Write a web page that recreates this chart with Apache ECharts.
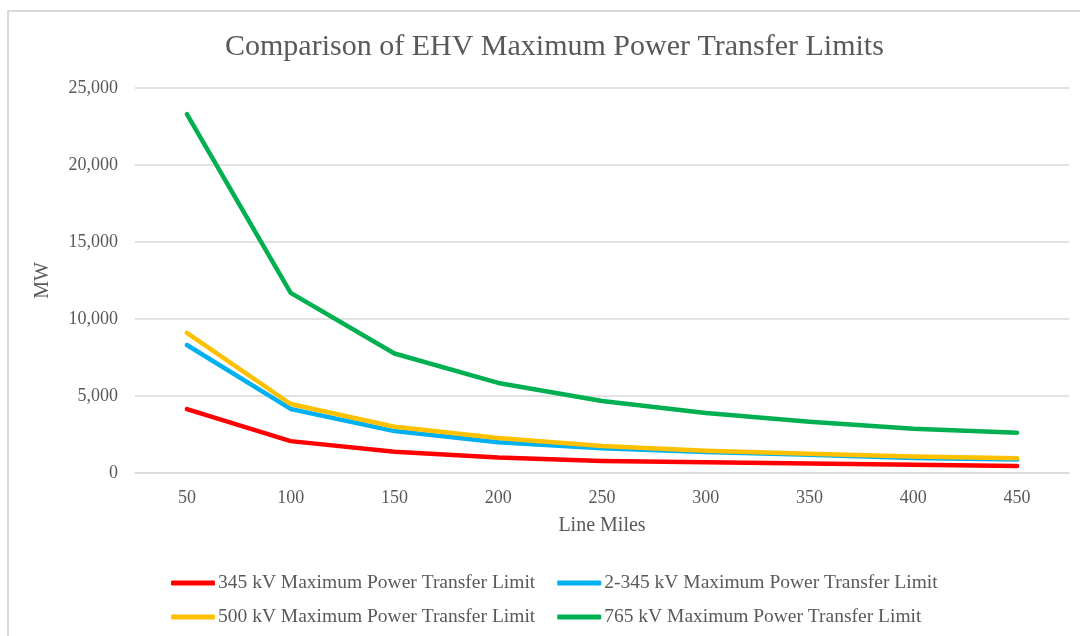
<!DOCTYPE html>
<html lang="en">

<head>
    <meta charset="UTF-8">
    <title>Comparison of EHV Maximum Power Transfer Limits</title>
    <style>
        html, body { margin: 0; padding: 0; background: #fff; }
    </style>
</head>

<body>
    <!-- chart container -->
    <div id="main" style="width: 1080px; height: 636px;"></div>

    <script src="https://cdn.jsdelivr.net/npm/echarts@6/dist/echarts.min.js"></script>
    <script>
        // line miles on the x axis
        var miles = ['50', '100', '150', '200', '250', '300', '350', '400', '450']
        var yTicks = [0, 5000, 10000, 15000, 20000, 25000]

        // MW values
        var mw345 = [4150, 2070, 1380, 1000, 780, 690, 610, 530, 460]
        var mw2x345 = [8310, 4160, 2720, 2000, 1600, 1370, 1180, 980, 870]
        var mw500 = [9100, 4480, 3000, 2280, 1760, 1450, 1250, 1070, 960]
        var mw765 = [23300, 11700, 7760, 5850, 4680, 3900, 3330, 2880, 2620]

        var names = [
            '345 kV Maximum Power Transfer Limit',
            '2-345 kV Maximum Power Transfer Limit',
            '500 kV Maximum Power Transfer Limit',
            '765 kV Maximum Power Transfer Limit'
        ]
        var colors = ['#FF0000', '#00B0F0', '#FFC000', '#00B050']

        var font = 'Liberation Serif'
        var grey = '#595959'

        var myChart = echarts.init(document.getElementById('main'))

        function lineSeries(i, data) {
            return {
                name: names[i],
                type: 'line',
                data: data,
                symbol: 'none',
                lineStyle: { color: colors[i], width: 4.5, cap: 'round', join: 'round' },
                itemStyle: { color: colors[i] }
            }
        }

        function legendRow(top, items) {
            return {
                top: top,
                left: 166,
                data: items,
                icon: 'roundRect',
                itemWidth: 44,
                itemHeight: 5,
                itemGap: 22,
                textStyle: { fontFamily: font, fontSize: 19.5, color: grey, padding: [0, 0, 0, -2] }
            }
        }

        var option = {
            animation: false,
            backgroundColor: '#fff',
            title: {
                text: 'Comparison of EHV Maximum Power Transfer Limits',
                left: 220,
                top: 27,
                textStyle: { fontFamily: font, fontSize: 30, fontWeight: 'normal', color: grey }
            },
            graphic: [{
                type: 'rect',
                shape: { x: 8, y: 11, width: 1200, height: 1000 },
                style: { fill: 'none', stroke: '#d9d9d9', lineWidth: 2 },
                silent: true
            }],
            legend: [
                legendRow(568, [names[0], names[1]]),
                legendRow(602, [names[2], names[3]])
            ],
            grid: { left: 135, right: 11, top: 88, bottom: 163 },
            xAxis: {
                type: 'category',
                data: miles,
                boundaryGap: true,
                name: 'Line Miles',
                nameLocation: 'middle',
                nameGap: 43,
                nameTextStyle: { fontFamily: font, fontSize: 20, color: grey },
                axisLine: { lineStyle: { color: '#d9d9d9', width: 1.5 } },
                axisTick: { show: false },
                axisLabel: { fontFamily: font, fontSize: 18, color: grey, margin: 16 }
            },
            yAxis: {
                type: 'value',
                min: yTicks[0],
                max: yTicks[yTicks.length - 1],
                interval: yTicks[1] - yTicks[0],
                name: 'MW',
                nameLocation: 'middle',
                nameRotate: 90,
                nameGap: 82,
                nameTextStyle: { fontFamily: font, fontSize: 20, color: grey },
                axisLine: { show: false },
                axisTick: { show: false },
                splitLine: { lineStyle: { color: '#d9d9d9', width: 1.5 } },
                axisLabel: {
                    fontFamily: font, fontSize: 18, color: grey, margin: 17,
                    formatter: function (v) { return v.toLocaleString('en-US') }
                }
            },
            series: [
                lineSeries(0, mw345),
                lineSeries(1, mw2x345),
                lineSeries(2, mw500),
                lineSeries(3, mw765)
            ]
        }
        myChart.setOption(option)
    </script>
</body>

</html>
